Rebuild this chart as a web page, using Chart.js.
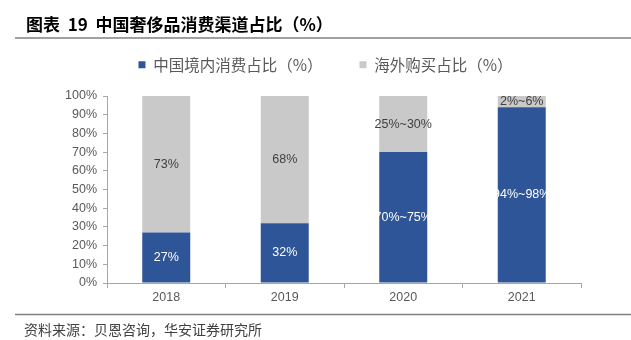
<!DOCTYPE html>
<html>
<head>
<meta charset="utf-8">
<script src="https://cdn.jsdelivr.net/npm/chart.js@4.4.1/dist/chart.umd.min.js"></script>
<style>
  html, body { margin: 0; padding: 0; background: #fff; }
  #wrap { width: 631px; height: 340px; }
</style>
</head>
<body>
<div id="wrap"><canvas id="shareChart" width="631" height="340"></canvas></div>
<script>
// channel share of luxury spending, % (2020/2021 drawn at the low end of each range)
const years = ['2018', '2019', '2020', '2021'];
const domestic = [27, 32, 70, 94];
const overseas = [73, 68, 30, 6];
const domesticLabels = ['27%', '32%', '70%~75%', '94%~98%'];
const overseasLabels = ['73%', '68%', '25%~30%', '2%~6%'];
const yTicks = [0, 10, 20, 30, 40, 50, 60, 70, 80, 90, 100];

const TITLE = '图表  19  中国奢侈品消费渠道占比（%）';
const SOURCE = '资料来源：贝恩咨询，华安证券研究所';
const CJK = '"Noto Sans CJK SC", "Liberation Sans", sans-serif';
const NUM = '"Liberation Sans", Arial, sans-serif';

// title, rules and source line around the plot
const frame = {
    id: 'frame',
    afterLayout(chart) {
        // legend sits a bit right of the default centre
        chart.legend.left += 25;
        chart.legend.right += 25;
    },
    beforeDraw(chart) {
        const ctx = chart.ctx;
        ctx.save();
        ctx.fillStyle = '#000';
        ctx.font = 'bold 17px ' + CJK;
        ctx.textBaseline = 'middle';
        ctx.fillText(TITLE, 26, 25);
        ctx.strokeStyle = '#808080';
        ctx.lineWidth = 1.5;
        ctx.beginPath(); ctx.moveTo(15, 38); ctx.lineTo(631, 38); ctx.stroke();
        ctx.beginPath(); ctx.moveTo(15, 314.5); ctx.lineTo(631, 314.5); ctx.stroke();
        ctx.fillStyle = '#404040';
        ctx.font = '14px ' + CJK;
        ctx.fillText(SOURCE, 24, 330);
        ctx.restore();
    }
};

// value labels in the middle of each segment
const segLabels = {
    id: 'segLabels',
    afterDatasetsDraw(chart) {
        const ctx = chart.ctx;
        const sets = [
            { labels: domesticLabels, color: '#fff' },
            { labels: overseasLabels, color: '#404040' }
        ];
        ctx.save();
        ctx.font = '12.5px ' + NUM;
        ctx.textAlign = 'center';
        ctx.textBaseline = 'middle';
        sets.forEach((s, di) => {
            chart.getDatasetMeta(di).data.forEach((bar, i) => {
                ctx.fillStyle = s.color;
                ctx.fillText(s.labels[i], bar.x, (bar.y + bar.base) / 2);
            });
        });
        ctx.restore();
    }
};

// fixed legend block height so the plot starts right below it
const legendGap = {
    id: 'legendGap',
    beforeInit(chart) {
        const fit = chart.legend.fit;
        chart.legend.fit = function () {
            fit.bind(chart.legend)();
            this.height = 76;
        };
    }
};

new Chart(document.getElementById('shareChart'), {
    type: 'bar',
    data: {
        labels: years,
        datasets: [
            { label: '中国境内消费占比（%）', data: domestic, backgroundColor: '#2e5597', borderWidth: 0 },
            { label: '海外购买占比（%）', data: overseas, backgroundColor: '#c9c9c9', borderWidth: 0 }
        ]
    },
    options: {
        responsive: false,
        animation: false,
        barPercentage: 0.405,
        categoryPercentage: 1,
        layout: { padding: { top: 20, left: 20, right: 50, bottom: 33 } },
        plugins: {
            legend: {
                labels: {
                    boxWidth: 7, boxHeight: 7, padding: 37,
                    color: '#595959',
                    font: { family: CJK, size: 15.5 }
                }
            },
            tooltip: { enabled: false }
        },
        scales: {
            x: {
                stacked: true,
                grid: { drawOnChartArea: false, tickLength: 5, color: '#a6a6a6' },
                border: { color: '#a6a6a6' },
                ticks: { color: '#595959', font: { family: NUM, size: 12.5 }, padding: 2 }
            },
            y: {
                stacked: true,
                min: 0, max: 100,
                afterFit(scale) { scale.width = 87; },
                afterBuildTicks(scale) { scale.ticks = yTicks.map(v => ({ value: v })); },
                grid: { drawOnChartArea: false, tickLength: 4, color: '#a6a6a6' },
                border: { color: '#a6a6a6' },
                ticks: {
                    color: '#595959', font: { family: NUM, size: 12.5 }, padding: 6,
                    callback: v => v + '%'
                }
            }
        }
    },
    plugins: [frame, segLabels, legendGap]
});
</script>
</body>
</html>
